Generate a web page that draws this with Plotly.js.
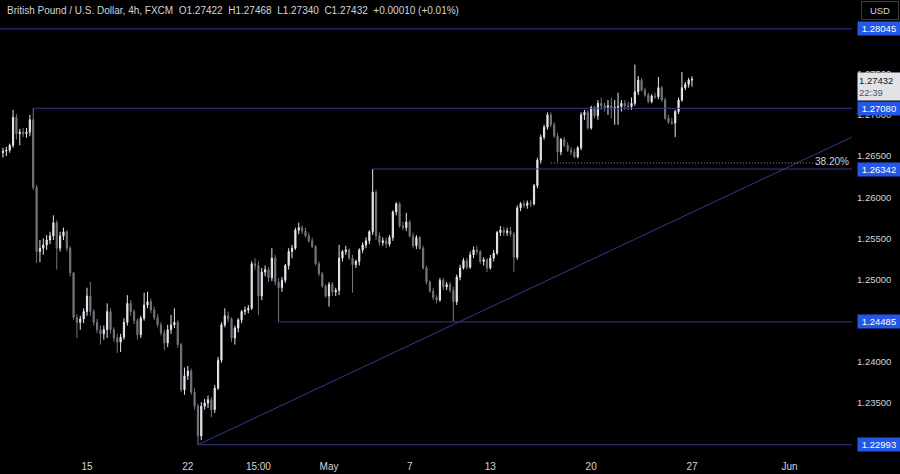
<!DOCTYPE html>
<html><head><meta charset="utf-8">
<script src="https://cdn.plot.ly/plotly-3.0.1.min.js"></script>
<style>html,body{margin:0;padding:0;background:#000;} #chart{width:900px;height:474px;}</style>
</head><body><div id="chart"></div>
<script>
// 4h GBP/USD candles (FXCM), oldest first
const openP = [
1.2654,1.2656,1.2657,1.2663,1.2697,1.2677,1.2679,1.2677,1.2679,1.2694,
1.2612,1.2534,1.2538,1.2542,1.2548,1.2553,1.2569,1.2538,1.2553,1.2558,
1.2538,1.2508,1.2454,1.2448,1.2452,1.2461,1.2480,1.2461,1.2448,1.2439,
1.2434,1.2439,1.2461,1.2439,1.2429,1.2424,1.2430,1.2448,1.2471,1.2461,
1.2450,1.2433,1.2453,1.2469,1.2473,1.2463,1.2454,1.2445,1.2435,1.2423,
1.2439,1.2445,1.2448,1.2421,1.2366,1.2383,1.2389,1.2363,1.2346,1.2310,
1.2346,1.2350,1.2354,1.2342,1.2368,1.2402,1.2445,1.2456,1.2452,1.2429,
1.2441,1.2451,1.2461,1.2463,1.2465,1.2519,1.2517,1.2480,1.2509,1.2512,
1.2502,1.2526,1.2497,1.2490,1.2499,1.2517,1.2534,1.2538,1.2560,1.2563,
1.2559,1.2553,1.2547,1.2540,1.2519,1.2507,1.2492,1.2480,1.2494,1.2485,
1.2487,1.2526,1.2534,1.2536,1.2526,1.2518,1.2522,1.2536,1.2542,1.2547,
1.2558,1.2606,1.2553,1.2545,1.2547,1.2543,1.2551,1.2582,1.2592,1.2565,
1.2563,1.2570,1.2553,1.2541,1.2551,1.2538,1.2514,1.2497,1.2486,1.2478,
1.2475,1.2499,1.2491,1.2494,1.2487,1.2473,1.2503,1.2514,1.2523,1.2515,
1.2530,1.2536,1.2534,1.2522,1.2524,1.2514,1.2526,1.2532,1.2557,1.2560,
1.2557,1.2559,1.2555,1.2527,1.2587,1.2592,1.2590,1.2593,1.2592,1.2614,
1.2645,1.2673,1.2685,1.2700,1.2688,1.2674,1.2655,1.2670,1.2663,1.2657,
1.2655,1.2649,1.2660,1.2700,1.2703,1.2684,1.2709,1.2699,1.2714,1.2711,
1.2709,1.2711,1.2708,1.2709,1.2710,1.2714,1.2711,1.2710,1.2714,1.2728,
1.2742,1.2730,1.2724,1.2716,1.2723,1.2722,1.2733,1.2718,1.2696,1.2691,
1.2690,1.2704,1.2718,1.2733,1.2737,1.27422];
const highP = [
1.2660,1.2661,1.2665,1.2706,1.2701,1.2683,1.2684,1.2684,1.2700,1.2708,
1.2615,1.2548,1.2550,1.2554,1.2558,1.2578,1.2572,1.2558,1.2563,1.2560,
1.2541,1.2509,1.2458,1.2456,1.2465,1.2490,1.2497,1.2464,1.2452,1.2444,
1.2444,1.2471,1.2465,1.2442,1.2434,1.2434,1.2453,1.2481,1.2475,1.2464,
1.2453,1.2456,1.2484,1.2485,1.2477,1.2467,1.2458,1.2448,1.2439,1.2445,
1.2457,1.2465,1.2451,1.2423,1.2393,1.2395,1.2392,1.2368,1.2349,1.2351,
1.2355,1.2359,1.2357,1.2372,1.2406,1.2448,1.2465,1.2461,1.2454,1.2444,
1.2453,1.2463,1.2467,1.2469,1.2522,1.2526,1.2522,1.2514,1.2517,1.2515,
1.2538,1.2530,1.2502,1.2503,1.2519,1.2538,1.2542,1.2563,1.2569,1.2566,
1.2563,1.2557,1.2551,1.2542,1.2522,1.2509,1.2494,1.2497,1.2497,1.2490,
1.2542,1.2536,1.2541,1.2538,1.2530,1.2524,1.2538,1.2545,1.2551,1.2560,
1.26342,1.2609,1.2557,1.2551,1.2551,1.2554,1.2584,1.2594,1.2594,1.2570,
1.2581,1.2572,1.2557,1.2554,1.2553,1.2541,1.2517,1.2499,1.2490,1.2481,
1.2502,1.2502,1.2497,1.2497,1.2491,1.2506,1.2518,1.2526,1.2526,1.2534,
1.2540,1.2541,1.2536,1.2527,1.2526,1.2530,1.2536,1.2559,1.2565,1.2564,
1.2563,1.2564,1.2558,1.2590,1.2594,1.2596,1.2596,1.2597,1.2616,1.2648,
1.2676,1.2688,1.2703,1.2703,1.2691,1.2678,1.2672,1.2673,1.2667,1.2661,
1.2659,1.2662,1.2703,1.2706,1.2706,1.2711,1.2711,1.2718,1.2721,1.2715,
1.2718,1.2721,1.2718,1.2727,1.2718,1.2718,1.2716,1.2721,1.2761,1.2747,
1.2745,1.2733,1.2727,1.2725,1.2727,1.2746,1.2735,1.2721,1.2700,1.2696,
1.2706,1.2721,1.2752,1.2740,1.2745,1.27468];
const lowP = [
1.2648,1.2650,1.2654,1.2660,1.2670,1.2663,1.2673,1.2672,1.2674,1.2609,
1.2520,1.2521,1.2530,1.2536,1.2543,1.2548,1.2512,1.2534,1.2548,1.2534,
1.2504,1.2451,1.2429,1.2439,1.2447,1.2456,1.2456,1.2444,1.2435,1.2421,
1.2427,1.2429,1.2434,1.2424,1.2411,1.2412,1.2427,1.2444,1.2456,1.2446,
1.2427,1.2429,1.2450,1.2465,1.2459,1.2451,1.2442,1.2432,1.2414,1.2418,
1.2434,1.2441,1.2417,1.2363,1.2360,1.2378,1.2360,1.2342,1.22993,1.2305,
1.2342,1.2344,1.2333,1.2338,1.2366,1.2399,1.2442,1.2448,1.2424,1.2421,
1.2436,1.2447,1.2457,1.2459,1.2463,1.2512,1.2457,1.2475,1.2504,1.2497,
1.2498,1.2493,1.24485,1.2485,1.2496,1.2512,1.2526,1.2536,1.2555,1.2555,
1.2551,1.2545,1.2538,1.2517,1.2504,1.2490,1.2478,1.2467,1.2480,1.2480,
1.2481,1.2522,1.2530,1.2524,1.2484,1.2514,1.2517,1.2532,1.2538,1.2543,
1.2554,1.2548,1.2541,1.2541,1.2538,1.2540,1.2547,1.2578,1.2563,1.2560,
1.2559,1.2551,1.2538,1.2537,1.2536,1.2512,1.2494,1.2484,1.2475,1.2471,
1.2473,1.2487,1.2487,1.2484,1.2449,1.2469,1.2499,1.2512,1.2512,1.2513,
1.2526,1.2530,1.2519,1.2517,1.2509,1.2512,1.2522,1.2530,1.2553,1.2553,
1.2553,1.2552,1.2509,1.2524,1.2583,1.2587,1.2586,1.2588,1.2590,1.2611,
1.2641,1.2670,1.2682,1.2685,1.2672,1.2643,1.2651,1.2661,1.2655,1.2651,
1.2647,1.2647,1.2657,1.2694,1.2682,1.2682,1.2696,1.2694,1.2706,1.2704,
1.2700,1.2696,1.2688,1.2688,1.2704,1.2706,1.2706,1.2706,1.2711,1.2724,
1.2728,1.2722,1.2714,1.2714,1.2719,1.2719,1.2716,1.2694,1.2689,1.2688,
1.2673,1.2701,1.2716,1.2730,1.2733,1.27340];
const closeP = [
1.2656,1.2657,1.2663,1.2697,1.2677,1.2679,1.2677,1.2679,1.2694,1.2612,
1.2534,1.2538,1.2542,1.2548,1.2553,1.2569,1.2538,1.2553,1.2558,1.2538,
1.2508,1.2454,1.2448,1.2452,1.2461,1.2480,1.2461,1.2448,1.2439,1.2434,
1.2439,1.2461,1.2439,1.2429,1.2424,1.2430,1.2448,1.2471,1.2461,1.2450,
1.2433,1.2453,1.2469,1.2473,1.2463,1.2454,1.2445,1.2435,1.2423,1.2439,
1.2445,1.2448,1.2421,1.2366,1.2383,1.2389,1.2363,1.2346,1.2310,1.2346,
1.2350,1.2354,1.2342,1.2368,1.2402,1.2445,1.2456,1.2452,1.2429,1.2441,
1.2451,1.2461,1.2463,1.2465,1.2519,1.2517,1.2480,1.2509,1.2512,1.2502,
1.2526,1.2497,1.2490,1.2499,1.2517,1.2534,1.2538,1.2560,1.2563,1.2559,
1.2553,1.2547,1.2540,1.2519,1.2507,1.2492,1.2480,1.2494,1.2485,1.2487,
1.2526,1.2534,1.2536,1.2526,1.2518,1.2522,1.2536,1.2542,1.2547,1.2558,
1.2606,1.2553,1.2545,1.2547,1.2543,1.2551,1.2582,1.2592,1.2565,1.2563,
1.2570,1.2553,1.2541,1.2551,1.2538,1.2514,1.2497,1.2486,1.2478,1.2475,
1.2499,1.2491,1.2494,1.2487,1.2473,1.2503,1.2514,1.2523,1.2515,1.2530,
1.2536,1.2534,1.2522,1.2524,1.2514,1.2526,1.2532,1.2557,1.2560,1.2557,
1.2559,1.2555,1.2527,1.2587,1.2592,1.2590,1.2593,1.2592,1.2614,1.2645,
1.2673,1.2685,1.2700,1.2688,1.2674,1.2655,1.2670,1.2663,1.2657,1.2655,
1.2649,1.2660,1.2700,1.2703,1.2684,1.2709,1.2699,1.2714,1.2711,1.2709,
1.2711,1.2708,1.2709,1.2710,1.2714,1.2711,1.2710,1.2714,1.2728,1.2742,
1.2730,1.2724,1.2716,1.2723,1.2722,1.2733,1.2718,1.2696,1.2691,1.2690,
1.2704,1.2718,1.2733,1.2737,1.27422,1.27432];

// time axis labels (bar index of the labelled bar)
const tickIdx  = [25, 55, 76, 97, 121, 145, 175, 205, 234];
const tickText = ['15', '22', '15:00', 'May', '7', '13', '20', '27', 'Jun'];
// price axis ticks
const priceTicks = [1.235, 1.24, 1.25, 1.255, 1.26, 1.265, 1.27, 1.275];
// horizontal levels: price, label, bar index where the ray starts
const levelPrices   = [1.28045, 1.27080, 1.26342, 1.24485, 1.22993];
const levelLabels   = ['1.28045', '1.27080', '1.26342', '1.24485', '1.22993'];
const levelStartIdx = [-1, 9, 110, 82, 58];
// trendline from the swing low
const trendIdx   = [58, 252.6];
const trendPrice = [1.22993, 1.2673];
// fib retracement level
const fibPrice = 1.26416, fibStartIdx = 163, fibEndIdx = 241.5, fibLabel = '38.20%';
// header / last price
const headerName = 'British Pound / U.S. Dollar, 4h, FXCM';
const headerOHLC = ['O1.27422', 'H1.27468', 'L1.27340', 'C1.27432', '+0.00010 (+0.01%)'];
const lastPrice = 1.27432, countdown = '22:39';

const xRange = [-0.885, 252.6];
const yRange = [1.22905, 1.28395];
const lineCol = '#34388a';
const txtCol = '#d1d4dc';
const F = 'Liberation Sans, Arial, sans-serif';

const idx = closeP.map((_, i) => i);

const trace = {
  type: 'candlestick', x: idx, open: openP, high: highP, low: lowP, close: closeP,
  increasing: {line: {color: '#e6e8ec', width: 1}, fillcolor: '#e6e8ec'},
  decreasing: {line: {color: '#73767f', width: 1}, fillcolor: '#73767f'},
  whiskerwidth: 0, hoverinfo: 'skip'
};

const shapes = [];
levelPrices.forEach((p, k) => {
  shapes.push({type: 'line', xref: 'x', yref: 'y', x0: levelStartIdx[k], x1: xRange[1], y0: p, y1: p,
    line: {color: lineCol, width: 1}});
});
shapes.push({type: 'line', xref: 'x', yref: 'y', x0: trendIdx[0], x1: trendIdx[1], y0: trendPrice[0], y1: trendPrice[1],
  line: {color: lineCol, width: 1}});
shapes.push({type: 'line', xref: 'x', yref: 'y', x0: fibStartIdx, x1: fibEndIdx, y0: fibPrice, y1: fibPrice,
  line: {color: '#9a9ca3', width: 1, dash: '1px,2px'}});

const PW = 852, PH = 452;
const annotations = [];
const sp = '\u00a0\u00a0';
annotations.push({xref: 'paper', yref: 'paper', x: 5 / PW, y: 1 - 10 / PH, xanchor: 'left', yanchor: 'middle',
  text: headerName + sp + headerOHLC.join(sp), showarrow: false, font: {family: F, size: 10, color: txtCol}});
levelPrices.forEach((p, k) => {
  annotations.push({xref: 'paper', yref: 'y', x: 857 / PW, y: p, xanchor: 'left', yanchor: 'middle',
    text: levelLabels[k], showarrow: false, bgcolor: '#2457e8', width: 40, height: 11, borderpad: 1,
    font: {family: F, size: 9.5, color: '#ffffff'}});
});
annotations.push({xref: 'paper', yref: 'y', x: 857 / PW, y: lastPrice, xanchor: 'left', yanchor: 'top', yshift: 7,
  text: lastPrice.toFixed(5) + '<br><span style="color:#50535e">' + countdown + '</span>', showarrow: false,
  bgcolor: '#e1e3e9', width: 41, height: 25, borderpad: 1, align: 'left',
  font: {family: F, size: 9.5, color: '#131722'}});
annotations.push({xref: 'paper', yref: 'paper', x: 880 / PW, y: 1 - 10 / PH, xanchor: 'center', yanchor: 'middle',
  text: 'USD', showarrow: false, bgcolor: '#000000', bordercolor: '#3b3e48', borderwidth: 1, width: 34, height: 15,
  font: {family: F, size: 9.5, color: txtCol}});
annotations.push({xref: 'paper', yref: 'y', x: 832 / PW, y: fibPrice, xanchor: 'center', yanchor: 'middle', yshift: 1,
  text: fibLabel, showarrow: false, font: {family: F, size: 10, color: txtCol}});

const layout = {
  width: 900, height: 474,
  paper_bgcolor: '#000000', plot_bgcolor: '#000000',
  margin: {l: 0, r: 48, t: 0, b: 22},
  showlegend: false, boxgap: 0.5, dragmode: false,
  xaxis: {range: xRange, tickvals: tickIdx, ticktext: tickText, showgrid: false, zeroline: false,
    showline: false, ticks: '', ticklabelstandoff: 7, rangeslider: {visible: false}, fixedrange: true,
    tickfont: {family: F, size: 10, color: txtCol}},
  yaxis: {side: 'right', range: yRange, tickvals: priceTicks, tickformat: '.5f', showgrid: false, zeroline: false,
    showline: false, ticks: '', ticklabelstandoff: 4, fixedrange: true,
    tickfont: {family: F, size: 9.5, color: txtCol}},
  shapes: shapes, annotations: annotations
};

Plotly.newPlot('chart', [trace], layout, {staticPlot: true, displayModeBar: false});
</script></body></html>
